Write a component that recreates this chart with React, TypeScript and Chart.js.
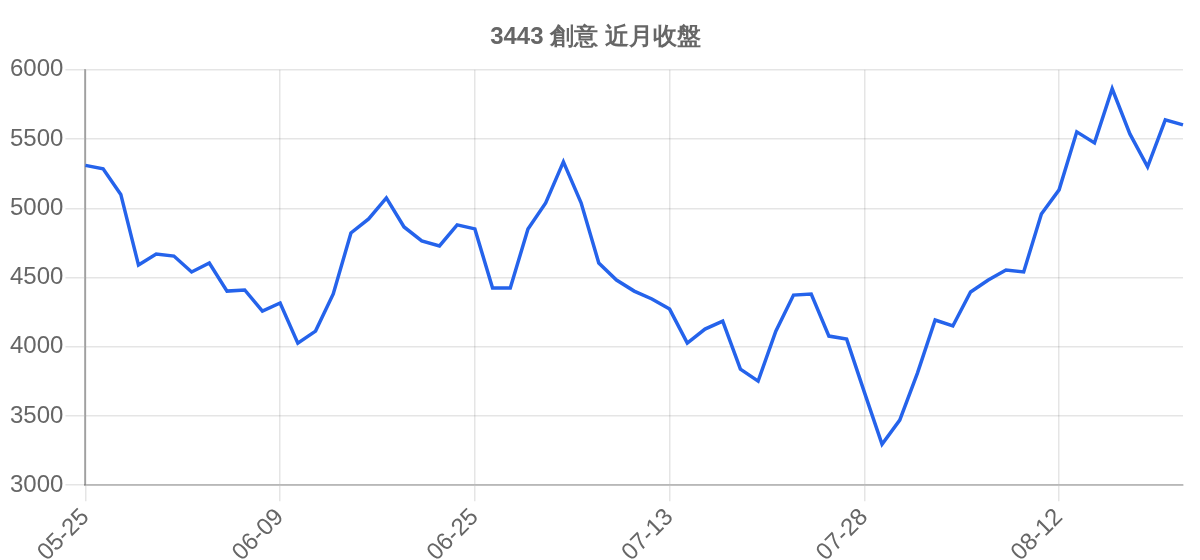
import React, { useEffect, useRef } from "react";
import { Chart, registerables } from "chart.js";

Chart.register(...registerables);

const TITLE = "3443 創意 近月收盤";

const dates: string[] = [
  "05-25", "05-26", "05-27", "05-28", "05-31", "06-01", "06-02", "06-03", "06-04", "06-07", "06-08",
  "06-09", "06-10", "06-11", "06-15", "06-16", "06-17", "06-18", "06-21", "06-22", "06-23", "06-24",
  "06-25", "06-28", "06-29", "06-30", "07-01", "07-02", "07-05", "07-06", "07-07", "07-08", "07-09",
  "07-13", "07-14", "07-15", "07-16", "07-19", "07-20", "07-21", "07-22", "07-23", "07-26", "07-27",
  "07-28", "07-29", "07-30", "08-02", "08-03", "08-04", "08-05", "08-06", "08-09", "08-10", "08-11",
  "08-12", "08-13", "08-16", "08-17", "08-18", "08-19", "08-20", "08-23",
];

const closes: number[] = [
  5310, 5285, 5100, 4590, 4670, 4655, 4540, 4605, 4402, 4410, 4258,
  4316, 4026, 4113, 4381, 4822, 4923, 5075, 4865, 4764, 4728, 4880,
  4851, 4424, 4424, 4851, 5039, 5335, 5039, 4605, 4482, 4402, 4345,
  4272, 4026, 4128, 4185, 3838, 3752, 4113, 4373, 4381, 4077, 4055,
  3672, 3296, 3470, 3810, 4193, 4150, 4395, 4482, 4554, 4540, 4959,
  5133, 5552, 5472, 5863, 5537, 5299, 5639, 5602,
];

const Y_MIN = 3000;
const Y_MAX = 6000;
const Y_STEP = 500;

export default function App() {
  const ref = useRef<HTMLCanvasElement>(null);
  useEffect(() => {
    if (!ref.current) return;
    const font = "'Liberation Sans', Arial, sans-serif";
    const chart = new Chart(ref.current, {
      type: "line",
      data: {
        labels: dates,
        datasets: [
          {
            label: TITLE,
            data: closes,
            borderColor: "#2563eb",
            backgroundColor: "#2563eb",
            borderWidth: 3.5,
            pointRadius: 0,
            tension: 0,
            fill: false,
          },
        ],
      },
      options: {
        animation: false,
        responsive: true,
        maintainAspectRatio: false,
        layout: { padding: { right: 9 } },
        plugins: {
          legend: { display: false },
          tooltip: { enabled: false },
          title: {
            display: true,
            text: TITLE,
            color: "#666",
            font: { family: font, size: 24, weight: "bold" },
            padding: { top: 15, bottom: 18 },
          },
        },
        scales: {
          x: {
            grid: { color: "rgba(0,0,0,0.1)", lineWidth: 1.5, tickLength: 16 },
            border: { color: "rgba(0,0,0,0.2)", width: 2 },
            ticks: {
              color: "#666",
              font: { family: font, size: 24 },
              maxRotation: 45,
              minRotation: 45,
              autoSkip: true,
              maxTicksLimit: 6,
              padding: 2,
            },
          },
          y: {
            min: Y_MIN,
            max: Y_MAX,
            grid: { color: "rgba(0,0,0,0.1)", lineWidth: 1.5, tickLength: 20 },
            border: { color: "rgba(0,0,0,0.3)", width: 2 },
            ticks: {
              stepSize: Y_STEP,
              color: "#666",
              font: { family: font, size: 24 },
              padding: 2,
              callback: (v: any) => String(v),
            },
          },
        },
      },
    });
    return () => chart.destroy();
  }, []);
  return (
    <div style={{ width: 1184, height: 561, position: "relative" }}>
      <canvas ref={ref} />
    </div>
  );
}
